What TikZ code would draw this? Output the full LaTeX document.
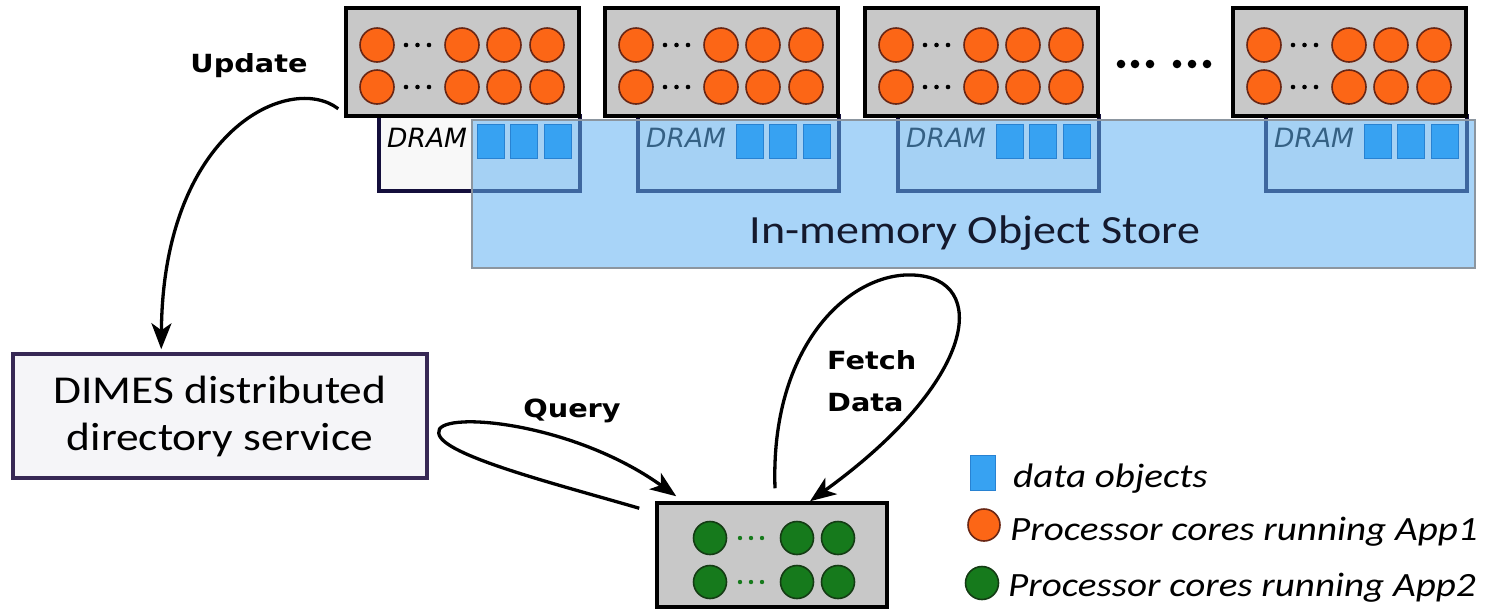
\documentclass[tikz,border=0pt]{standalone}
\usepackage{fontspec}
\setmainfont{Carlito}
\newfontfamily\boxfont[FakeStretch=1.15]{Carlito}
\newfontfamily\labelfont[FakeStretch=1.15]{DejaVu Sans}
\newfontfamily\dramfont{DejaVu Sans}
\usetikzlibrary{arrows.meta,fit,calc}

\definecolor{cpugray}{RGB}{200,200,200}
\definecolor{orangecore}{RGB}{252,102,22}
\definecolor{orangeedge}{RGB}{105,38,20}
\definecolor{greencore}{RGB}{22,122,28}
\definecolor{greenedge}{RGB}{20,60,20}
\definecolor{dramedge}{RGB}{20,15,60}
\definecolor{dramfill}{RGB}{248,248,248}
\definecolor{storefill}{RGB}{97,177,242}
\definecolor{storeedge}{RGB}{140,150,160}
\definecolor{objfill}{RGB}{55,162,242}
\definecolor{objedge}{RGB}{40,130,210}
\definecolor{dimesfill}{RGB}{245,245,248}
\definecolor{dimesedge}{RGB}{55,40,85}
\definecolor{storetext}{RGB}{20,25,45}

\begin{document}
\begin{tikzpicture}[x=1pt,y=-1pt,
  cpubox/.style={draw=black, line width=3.5pt, fill=cpugray, inner sep=0pt},
  drambox/.style={draw=dramedge, line width=3.2pt, fill=dramfill, inner sep=0pt},
  dramtext/.style={font=\dramfont\itshape\fontsize{26.5}{30}\selectfont, inner sep=0pt},
  core/.style={draw=orangeedge, line width=1.6pt, fill=orangecore},
  appcore/.style={draw=greenedge, line width=1.6pt, fill=greencore},
  objsq/.style={draw=objedge, line width=1pt, fill=objfill},
  tag/.style={font=\labelfont\bfseries\fontsize{25}{42}\selectfont, inner sep=0pt},
  legendtext/.style={font=\boxfont\itshape\fontsize{34}{40}\selectfont, inner sep=0pt},
  flow/.style={line width=3.3pt, -{Stealth[length=26pt,width=20pt,inset=7pt]}}]

\useasboundingbox (0,0) rectangle (1490,611);

% node memories (DRAM) under each compute node
\foreach \L [count=\i] in {346,605,865,1233}{
  \node[drambox, fit={(\L+33,116) (\L+234,191)}] (dram\i) {};
  \node[dramtext, anchor=base west] (dramlbl\i) at (\L+41,147) {DRAM};
}

% shared in-memory object store (translucent, over the DRAMs)
\node[fit={(472,120) (1475,268)}, inner sep=0pt, fill=storefill, fill opacity=0.55,
      draw=storeedge, draw opacity=1, line width=2.2pt] (store) {};
\node[font=\boxfont\fontsize{40}{46}\selectfont, text=storetext, anchor=base, inner sep=0pt]
  (storelbl) at (975,243) {In-memory Object Store};

% data objects held in each DRAM
\foreach \L in {346,605,865,1233}{
  \foreach \sx in {131,164,198}{
    \draw[objsq] (\L+\sx,124) rectangle (\L+\sx+27,158);
  }
}

% compute nodes running App1
\foreach \L [count=\i] in {346,605,865,1233}{
  \node[cpubox, fit={(\L,8) (\L+233,116)}] (cpu\i) {};
  \foreach \dy in {45,87}{
    \foreach \dx in {31,116,158,201}{
      \draw[core] (\L+\dx,\dy) circle (17pt);
    }
    \foreach \dx in {60,71.5,83}{
      \fill (\L+\dx,\dy) circle (2.3pt);
    }
  }
}

% ellipsis between the third and the last node
\foreach \x in {1121,1135,1150,1177,1192,1207}{
  \fill (\x,64) circle (4.3pt);
}

% directory service
\node[draw=dimesedge, line width=3.5pt, fill=dimesfill, minimum width=414pt, minimum height=124pt,
      inner sep=0pt, align=center, font=\boxfont\fontsize{39.5}{47}\selectfont]
  (dimes) at (220,416) {DIMES distributed\\directory service};

% compute node running App2
\node[cpubox, fit={(657,503) (887,607)}] (app2) {};
\foreach \dy in {538,582}{
  \foreach \dx in {710,797,838}{
    \draw[appcore] (\dx,\dy) circle (16.5pt);
  }
  \foreach \dx in {740,751,762}{
    \fill[greencore] (\dx,\dy) circle (2.2pt);
  }
}

% interactions
\draw[flow] ($(cpu1.south west)+(-6,-9)$) .. controls (290,72) and (163,130) .. ($(dimes.north west)+(150,-3)$);
\node[tag, anchor=base] (updatelbl) at (249,72) {Update};

\draw[flow] ($(app2.north west)+(-16,7)$) .. controls (560,485) and (440,455) .. ($(dimes.east)+(10,17)$)
  .. controls (434,410) and (570,420) .. ($(app2.north west)+(21,-5)$);
\node[tag, anchor=base] (querylbl) at (572,417) {Query};

\draw[flow] ($(app2.north)+(3,-13)$) .. controls (770,345) and (850,272) .. (913,275)
  .. controls (990,278) and (978,380) .. ($(app2.north)+(38,0)$);
\node[tag, anchor=north west, align=left] (fetchlbl) at (827,350) {Fetch\\Data};

% legend
\draw[objsq] (970,455) rectangle (995,490);
\node[legendtext, anchor=base west] (leg1) at (1013,487) {data objects};
\draw[core] (984,525) circle (16pt);
\node[legendtext, anchor=base west] (leg2) at (1010,540) {Processor cores running App1};
\draw[appcore] (982,583) circle (16.5pt);
\node[legendtext, anchor=base west] (leg3) at (1008,596) {Processor cores running App2};

\end{tikzpicture}
\end{document}
